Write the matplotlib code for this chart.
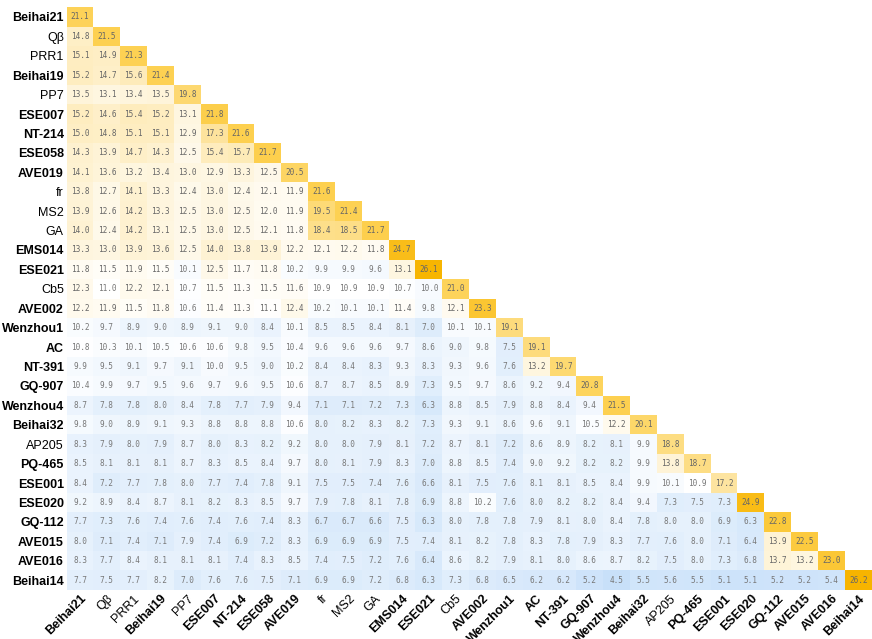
import numpy as np
import matplotlib.pyplot as plt
from matplotlib.colors import LinearSegmentedColormap

labels = ["Beihai21", "Qβ", "PRR1", "Beihai19", "PP7", "ESE007", "NT-214", "ESE058",
          "AVE019", "fr", "MS2", "GA", "EMS014", "ESE021", "Cb5", "AVE002", "Wenzhou1",
          "AC", "NT-391", "GQ-907", "Wenzhou4", "Beihai32", "AP205", "PQ-465", "ESE001",
          "ESE020", "GQ-112", "AVE015", "AVE016", "Beihai14"]
plain = {"Qβ", "PRR1", "PP7", "fr", "MS2", "GA", "Cb5", "AP205"}

# lower triangle, row by row (diagonal included)
rows = [
    [21.1],
    [14.8, 21.5],
    [15.1, 14.9, 21.3],
    [15.2, 14.7, 15.6, 21.4],
    [13.5, 13.1, 13.4, 13.5, 19.8],
    [15.2, 14.6, 15.4, 15.2, 13.1, 21.8],
    [15.0, 14.8, 15.1, 15.1, 12.9, 17.3, 21.6],
    [14.3, 13.9, 14.7, 14.3, 12.5, 15.4, 15.7, 21.7],
    [14.1, 13.6, 13.2, 13.4, 13.0, 12.9, 13.3, 12.5, 20.5],
    [13.8, 12.7, 14.1, 13.3, 12.4, 13.0, 12.4, 12.1, 11.9, 21.6],
    [13.9, 12.6, 14.2, 13.3, 12.5, 13.0, 12.5, 12.0, 11.9, 19.5, 21.4],
    [14.0, 12.4, 14.2, 13.1, 12.5, 13.0, 12.5, 12.1, 11.8, 18.4, 18.5, 21.7],
    [13.3, 13.0, 13.9, 13.6, 12.5, 14.0, 13.8, 13.9, 12.2, 12.1, 12.2, 11.8, 24.7],
    [11.8, 11.5, 11.9, 11.5, 10.1, 12.5, 11.7, 11.8, 10.2, 9.9, 9.9, 9.6, 13.1, 26.1],
    [12.3, 11.0, 12.2, 12.1, 10.7, 11.5, 11.3, 11.5, 11.6, 10.9, 10.9, 10.9, 10.7, 10.0, 21.0],
    [12.2, 11.9, 11.5, 11.8, 10.6, 11.4, 11.3, 11.1, 12.4, 10.2, 10.1, 10.1, 11.4, 9.8, 12.1, 23.3],
    [10.2, 9.7, 8.9, 9.0, 8.9, 9.1, 9.0, 8.4, 10.1, 8.5, 8.5, 8.4, 8.1, 7.0, 10.1, 10.1, 19.1],
    [10.8, 10.3, 10.1, 10.5, 10.6, 10.6, 9.8, 9.5, 10.4, 9.6, 9.6, 9.6, 9.7, 8.6, 9.0, 9.8, 7.5, 19.1],
    [9.9, 9.5, 9.1, 9.7, 9.1, 10.0, 9.5, 9.0, 10.2, 8.4, 8.4, 8.3, 9.3, 8.3, 9.3, 9.6, 7.6, 13.2, 19.7],
    [10.4, 9.9, 9.7, 9.5, 9.6, 9.7, 9.6, 9.5, 10.6, 8.7, 8.7, 8.5, 8.9, 7.3, 9.5, 9.7, 8.6, 9.2, 9.4, 20.8],
    [8.7, 7.8, 7.8, 8.0, 8.4, 7.8, 7.7, 7.9, 9.4, 7.1, 7.1, 7.2, 7.3, 6.3, 8.8, 8.5, 7.9, 8.8, 8.4, 9.4, 21.5],
    [9.8, 9.0, 8.9, 9.1, 9.3, 8.8, 8.8, 8.8, 10.6, 8.0, 8.2, 8.3, 8.2, 7.3, 9.3, 9.1, 8.6, 9.6, 9.1, 10.5, 12.2, 20.1],
    [8.3, 7.9, 8.0, 7.9, 8.7, 8.0, 8.3, 8.2, 9.2, 8.0, 8.0, 7.9, 8.1, 7.2, 8.7, 8.1, 7.2, 8.6, 8.9, 8.2, 8.1, 9.9, 18.8],
    [8.5, 8.1, 8.1, 8.1, 8.7, 8.3, 8.5, 8.4, 9.7, 8.0, 8.1, 7.9, 8.3, 7.0, 8.8, 8.5, 7.4, 9.0, 9.2, 8.2, 8.2, 9.9, 13.8, 18.7],
    [8.4, 7.2, 7.7, 7.8, 8.0, 7.7, 7.4, 7.8, 9.1, 7.5, 7.5, 7.4, 7.6, 6.6, 8.1, 7.5, 7.6, 8.1, 8.1, 8.5, 8.4, 9.9, 10.1, 10.9, 17.2],
    [9.2, 8.9, 8.4, 8.7, 8.1, 8.2, 8.3, 8.5, 9.7, 7.9, 7.8, 8.1, 7.8, 6.9, 8.8, 10.2, 7.6, 8.0, 8.2, 8.2, 8.4, 9.4, 7.3, 7.5, 7.3, 24.9],
    [7.7, 7.3, 7.6, 7.4, 7.6, 7.4, 7.6, 7.4, 8.3, 6.7, 6.7, 6.6, 7.5, 6.3, 8.0, 7.8, 7.8, 7.9, 8.1, 8.0, 8.4, 7.8, 8.0, 8.0, 6.9, 6.3, 22.8],
    [8.0, 7.1, 7.4, 7.1, 7.9, 7.4, 6.9, 7.2, 8.3, 6.9, 6.9, 6.9, 7.5, 7.4, 8.1, 8.2, 7.8, 8.3, 7.8, 7.9, 8.3, 7.7, 7.6, 8.0, 7.1, 6.4, 13.9, 22.5],
    [8.3, 7.7, 8.4, 8.1, 8.1, 8.1, 7.4, 8.3, 8.5, 7.4, 7.5, 7.2, 7.6, 6.4, 8.6, 8.2, 7.9, 8.1, 8.0, 8.6, 8.7, 8.2, 7.5, 8.0, 7.3, 6.8, 13.7, 13.2, 23.0],
    [7.7, 7.5, 7.7, 8.2, 7.0, 7.6, 7.6, 7.5, 7.1, 6.9, 6.9, 7.2, 6.8, 6.3, 7.3, 6.8, 6.5, 6.2, 6.2, 5.2, 4.5, 5.5, 5.6, 5.5, 5.1, 5.1, 5.2, 5.2, 5.4, 26.2],
]

n = len(labels)
mat = np.full((n, n), np.nan)
for i, r in enumerate(rows):
    mat[i, :len(r)] = r
data = np.ma.masked_invalid(mat)

# light blue -> white (~10.9) -> cream -> amber
cmap = LinearSegmentedColormap.from_list(
    "bwy", [(0.0, "#c8e0f9"), (0.295, "#ffffff"), (0.43, "#fef3d6"),
            (0.585, "#fde4a0"), (0.78, "#fdd152"), (1.0, "#f7b400")])

fig = plt.figure(figsize=(8.72, 6.39), dpi=100)
ax = fig.add_axes([0.0764, 0.077, 0.9231, 0.9116])
ax.pcolormesh(np.arange(n + 1), np.arange(n + 1), data, cmap=cmap,
              vmin=4.5, vmax=26.2, edgecolor="face", linewidth=0)
ax.set_xlim(0, n)
ax.set_ylim(n, 0)

for i in range(n):
    for j in range(i + 1):
        v = mat[i, j]
        ax.text(j + 0.5, i + 0.5, f"{v:.1f}", ha="center", va="center",
                fontsize=5.6, family="DejaVu Sans Mono",
                color="#666666" if v > 11 else "#777777")

ax.set_xticks(np.arange(n) + 0.5)
ax.set_yticks(np.arange(n) + 0.5)
ax.set_xticklabels(labels, rotation=45, ha="right", rotation_mode="anchor")
ax.set_yticklabels(labels)
for t in ax.get_xticklabels() + ax.get_yticklabels():
    t.set_fontfamily("Liberation Sans")
    t.set_fontsize(9)
    t.set_fontweight("normal" if t.get_text() in plain else "bold")
ax.tick_params(length=0, pad=2)
for s in ax.spines.values():
    s.set_visible(False)

fig.savefig("out.png", dpi=100)
